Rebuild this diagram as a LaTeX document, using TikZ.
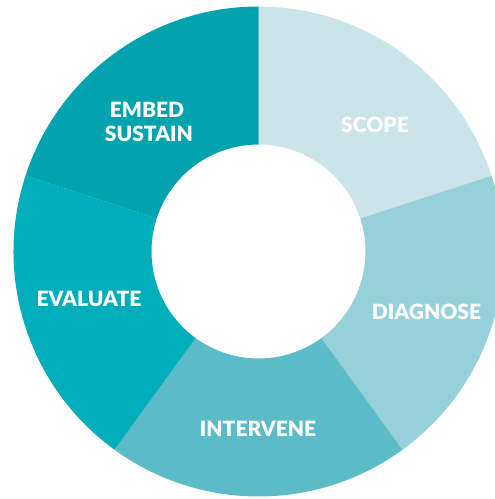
\documentclass[tikz,border=0pt]{standalone}
\usepackage{fontspec}
\setmainfont{Lato}
\newfontfamily\labelfont{Lato Black}
\usetikzlibrary{calc}
\definecolor{cScope}{HTML}{CBE4E9}
\definecolor{cDiagnose}{HTML}{96D0D8}
\definecolor{cIntervene}{HTML}{5BBCC7}
\definecolor{cEvaluate}{HTML}{00ADBA}
\definecolor{cEmbed}{HTML}{00A3AE}
\tikzset{
  phase/.style={text=white, font=\labelfont\fontsize{21}{24}\selectfont, anchor=base, inner sep=0pt, align=center},
}
% one ring segment: #1 colour, #2 start angle, #3 end angle
\newcommand{\ringpart}[3]{%
  \fill[#1] ($(O)+(#2:245pt)$) arc[start angle=#2, end angle=#3, radius=245pt]
    -- ($(O)+(#3:107pt)$) arc[start angle=#3, end angle=#2, radius=107pt] -- cycle;}
\begin{document}
\begin{tikzpicture}[x=1pt,y=1pt]
  \useasboundingbox (0,0) rectangle (495,499);
  \clip (0,0) rectangle (495,499);
  \coordinate (O) at (258.5,247.5);
  \ringpart{cScope}{90}{18}
  \ringpart{cDiagnose}{18}{-54}
  \ringpart{cIntervene}{-54}{-126}
  \ringpart{cEvaluate}{-126}{-198}
  \ringpart{cEmbed}{162}{90}
  \node[phase] (scope) at (375,366) {SCOPE};
  \node[phase] (diagnose) at (426.5,179) {DIAGNOSE};
  \node[phase] (intervene) at (258,62) {INTERVENE};
  \node[phase] (evaluate) at (89,192) {EVALUATE};
  \node[phase] (embed) at (147,381) {EMBED};
  \node[phase] (sustain) at (149,357) {SUSTAIN};
\end{tikzpicture}
\end{document}
